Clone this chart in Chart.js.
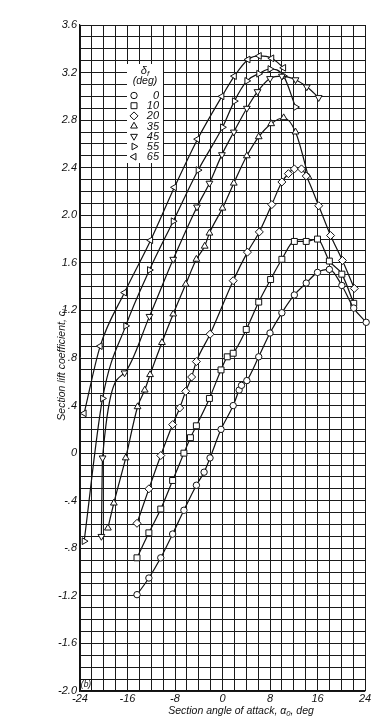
<!DOCTYPE html>
<html>
<head>
<meta charset="utf-8">
<script src="https://cdn.jsdelivr.net/npm/chart.js@4.4.1/dist/chart.umd.min.js"></script>
<style>
html,body{margin:0;padding:0;background:#fff;}
#wrap{width:391px;height:727px;position:relative;}
canvas{display:block;}
</style>
</head>
<body>
<div id="wrap"><canvas id="c" width="391" height="727"></canvas></div>
<script>
// ---- data ----
const flapAngles = [0, 10, 20, 35, 45, 55, 65];

const alpha0  = [-14.4,-12.4,-10.4,-8.4,-6.5,-4.4,-3.1,-2.1,-0.25,1.8,2.8,3.2,4.1,6.1,8.0,10.0,12.1,14.1,16.0,18.0,20.1,22.1,24.2];
const cl0     = [-1.19,-1.05,-0.88,-0.68,-0.48,-0.27,-0.16,-0.04,0.20,0.40,0.53,0.57,0.61,0.81,1.01,1.18,1.33,1.43,1.52,1.545,1.41,1.22,1.10];

const alpha10 = [-14.4,-12.4,-10.4,-8.4,-6.5,-5.4,-4.4,-2.2,-0.25,0.8,1.8,4.0,6.1,8.1,10.0,12.1,14.1,16.0,18.0,20.1,22.1];
const cl10    = [-0.88,-0.67,-0.47,-0.23,0.00,0.13,0.23,0.46,0.70,0.81,0.84,1.04,1.27,1.46,1.63,1.78,1.78,1.80,1.615,1.505,1.26];

const alpha20 = [-14.4,-12.4,-10.4,-8.4,-7.2,-6.2,-5.2,-4.4,-2.1,1.8,4.2,6.2,8.3,10.0,11.1,12.1,13.3,14.1,16.2,18.2,20.2,22.2];
const cl20    = [-0.59,-0.30,-0.02,0.24,0.38,0.52,0.64,0.77,1.00,1.45,1.69,1.86,2.09,2.28,2.35,2.39,2.39,2.33,2.08,1.83,1.62,1.385];

const alpha35 = [-19.3,-18.3,-16.3,-14.3,-13.1,-12.2,-10.2,-8.3,-6.2,-4.4,-3.0,-2.2,0.0,1.9,4.1,6.1,8.2,10.3,12.3,14.5];
const cl35    = [-0.63,-0.42,-0.04,0.39,0.53,0.66,0.93,1.17,1.42,1.63,1.74,1.85,2.06,2.27,2.50,2.66,2.77,2.82,2.70,2.32];

const alpha45 = [-20.4,-20.2,-16.5,-12.3,-8.3,-4.3,-2.2,-0.1,1.9,4.1,5.9,8.0,10.0,12.3,14.2,16.2];
const cl45    = [-0.70,-0.04,0.675,1.15,1.63,2.07,2.27,2.51,2.70,2.90,3.04,3.15,3.17,3.14,3.08,2.99];

const alpha55 = [-23.3,-20.2,-16.3,-12.3,-8.3,-4.1,0.0,2.0,4.1,6.1,8.0,10.3,12.3];
const cl55    = [-0.74,0.46,1.07,1.54,1.95,2.38,2.74,2.96,3.13,3.19,3.23,3.17,2.91];

const alpha65 = [-23.3,-20.6,-16.5,-12.1,-8.1,-4.2,-0.1,2.0,4.3,6.2,8.3,10.3];
const cl65    = [0.335,0.90,1.35,1.79,2.235,2.64,3.00,3.17,3.31,3.34,3.32,3.24];

const xTickLabels = ['-24','-16','-8','0','8','16','24'];
const yTickLabels = ['-2.0','-1.6','-1.2','-.8','-.4','0','.4','.8','1.2','1.6','2.0','2.4','2.8','3.2','3.6'];

const xTitle = ['Section angle of attack, ', 'α', '0', ', deg'];
const yTitle = ['Section lift coefficient, ', 'c', 'l'];
const legendTitle = ['δ', 'f'];
const legendUnit = '(deg)';
const panelTag = '(b)';

// ---- build datasets ----
const seriesX = [alpha0, alpha10, alpha20, alpha35, alpha45, alpha55, alpha65];
const seriesY = [cl0, cl10, cl20, cl35, cl45, cl55, cl65];
const markers = [
  {style:'circle',  rot:0,   r:3.2},
  {style:'rect',    rot:0,   r:4.2},
  {style:'rectRot', rot:0,   r:4.0},
  {style:'triangle',rot:0,   r:3.9},
  {style:'triangle',rot:180, r:3.9},
  {style:'triangle',rot:90,  r:3.9},
  {style:'triangle',rot:270, r:3.9}
];

const datasets = seriesX.map((xs, i) => ({
  label: String(flapAngles[i]),
  data: xs.map((x, j) => ({x: x, y: seriesY[i][j]})),
  borderColor: '#111',
  borderWidth: 1.2,
  backgroundColor: '#fff',
  pointBackgroundColor: '#fff',
  pointBorderColor: '#111',
  pointBorderWidth: 1,
  pointStyle: markers[i].style,
  pointRotation: markers[i].rot,
  pointRadius: markers[i].r,
  pointHoverRadius: markers[i].r,
  cubicInterpolationMode: 'monotone',
  fill: false,
  clip: false
}));

const FONT_FAM = '"Liberation Sans", "DejaVu Sans", sans-serif';

function drawParts(ctx, parts, cx, cy, size) {
  // parts: alternating normal / (greek normal) / subscript tokens described as [text, isSub]
  ctx.textBaseline = 'middle';
  ctx.textAlign = 'left';
  let total = 0;
  const widths = parts.map(p => {
    ctx.font = 'italic ' + (p[1] ? size * 0.72 : size) + 'px ' + FONT_FAM;
    const w = ctx.measureText(p[0]).width;
    total += w;
    return w;
  });
  let x = cx - total / 2;
  parts.forEach((p, i) => {
    ctx.font = 'italic ' + (p[1] ? size * 0.72 : size) + 'px ' + FONT_FAM;
    ctx.fillText(p[0], x, cy + (p[1] ? size * 0.3 : 0));
    x += widths[i];
  });
}

function drawMarker(ctx, m, x, y) {
  if (Chart.helpers && Chart.helpers.drawPoint) {
    ctx.save();
    ctx.fillStyle = '#fff';
    ctx.strokeStyle = '#111';
    ctx.lineWidth = 1;
    Chart.helpers.drawPoint(ctx, {pointStyle: m.style, rotation: m.rot, radius: m.r, borderWidth: 1}, x, y);
    ctx.restore();
  }
}

const annot = {
  id: 'annot',
  afterDatasetsDraw(chart) {
    const ctx = chart.ctx;
    ctx.save();
    ctx.fillStyle = '#111';
    // legend box
    ctx.fillStyle = '#fff';
    ctx.fillRect(127, 64, 36, 99);
    ctx.fillStyle = '#111';
    drawParts(ctx, [[legendTitle[0], false], [legendTitle[1], true]], 145, 71, 11);
    drawParts(ctx, [[legendUnit, false]], 145, 81, 10.5);
    const rowY0 = 95.5, rowDy = 10.2;
    flapAngles.forEach((a, i) => {
      const yy = rowY0 + i * rowDy;
      drawMarker(ctx, markers[i], 134, yy);
      ctx.fillStyle = '#111';
      ctx.font = 'italic 11px ' + FONT_FAM;
      ctx.textAlign = 'right';
      ctx.textBaseline = 'middle';
      ctx.fillText(String(a), 159, yy + 0.5);
    });
    // axis titles
    ctx.fillStyle = '#111';
    drawParts(ctx, [[xTitle[0], false], [xTitle[1], false], [xTitle[2], true], [xTitle[3], false]], 241, 711, 10.5);
    ctx.save();
    ctx.translate(62, 365);
    ctx.rotate(-Math.PI / 2);
    drawParts(ctx, [[yTitle[0], false], [yTitle[1], false], [yTitle[2], true]], 0, 0, 10.5);
    ctx.restore();
    // panel tag
    const ca = chart.chartArea;
    ctx.fillStyle = '#fff';
    ctx.fillRect(ca.left + 1, ca.bottom - 11, 10, 10);
    ctx.strokeStyle = '#111';
    ctx.lineWidth = 1;
    ctx.strokeRect(ca.left + 0.5, ca.bottom - 11.5, 11, 11);
    ctx.fillStyle = '#111';
    ctx.font = 'italic 8.5px ' + FONT_FAM;
    ctx.textAlign = 'center';
    ctx.textBaseline = 'middle';
    ctx.fillText(panelTag, ca.left + 6, ca.bottom - 6);
    ctx.restore();
  }
};

new Chart(document.getElementById('c'), {
  type: 'line',
  data: { datasets: datasets },
  plugins: [annot],
  options: {
    responsive: false,
    animation: false,
    devicePixelRatio: 1,
    layout: { padding: { top: 25, right: 26, bottom: 0, left: 0 } },
    plugins: { legend: { display: false }, tooltip: { enabled: false } },
    scales: {
      x: {
        type: 'linear',
        min: -24, max: 24,
        afterFit(scale) { scale.height = 36; },
        grid: { color: '#1a1a1a', lineWidth: 1, drawTicks: false },
        border: { display: true, color: '#111', width: 1.2 },
        ticks: {
          stepSize: 2, autoSkip: false, maxRotation: 0, padding: 1,
          color: '#111',
          font: { family: FONT_FAM, style: 'italic', size: 11 },
          callback(v) {
            const k = Math.round(v);
            if (((k % 8) + 8) % 8 !== 0) return '';
            return xTickLabels[(k + 24) / 8];
          }
        }
      },
      y: {
        type: 'linear',
        min: -2.0, max: 3.6,
        afterFit(scale) { scale.width = 80; },
        grid: { color: '#1a1a1a', lineWidth: 1, drawTicks: false },
        border: { display: true, color: '#111', width: 1.2 },
        ticks: {
          stepSize: 0.1, autoSkip: false, padding: 3,
          color: '#111',
          font: { family: FONT_FAM, style: 'italic', size: 11 },
          callback(v) {
            const k = Math.round(v * 10);
            if (((k % 4) + 4) % 4 !== 0) return '';
            return yTickLabels[(k + 20) / 4];
          }
        }
      }
    }
  }
});
</script>
</body>
</html>
